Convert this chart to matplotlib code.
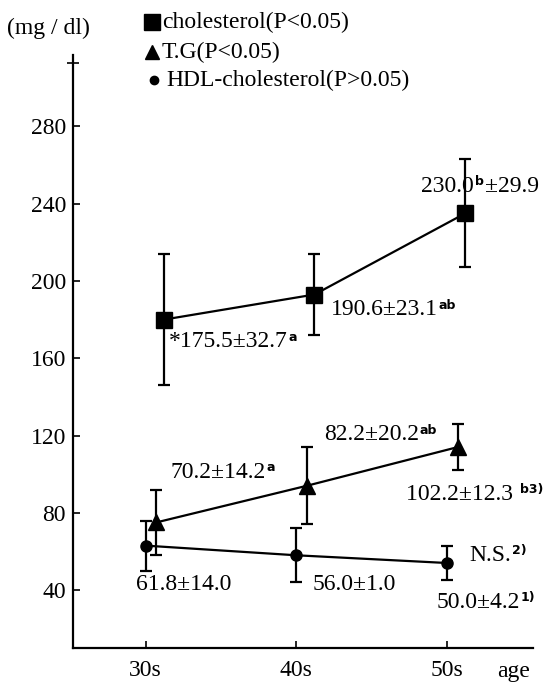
import matplotlib
matplotlib.use("Agg")
import matplotlib.pyplot as plt
from matplotlib.lines import Line2D
from matplotlib.transforms import IdentityTransform

# values as drawn in the figure (mean, half error bar) and the printed labels
ages = ["30s", "40s", "50s"]
chol_mean = [180, 193, 235]
chol_err = [34, 21, 28]
tg_mean = [75, 94, 114]
tg_err = [17, 20, 12]
hdl_mean = [63, 58, 54]
hdl_err = [13, 14, 9]

# label pieces: (text, superscript?)
chol_labels = [[("*175.5\u00b132.7", 0), ("a", 1)],
               [("190.6\u00b123.1", 0), ("ab", 1)],
               [("230.0", 0), ("b", 1), ("\u00b129.9", 0)]]
tg_labels = [[("70.2\u00b114.2", 0), ("a", 1)],
             [("82.2\u00b120.2", 0), ("ab", 1)],
             [("102.2\u00b112.3 ", 0), ("b3)", 1)]]
hdl_labels = [[("61.8\u00b114.0", 0)],
              [("56.0\u00b11.0", 0)],
              [("50.0\u00b14.2", 0), ("1)", 1)]]
ns_label = [("N.S.", 0), ("2)", 1)]
legend_labels = ["cholesterol(P<0.05)", "T.G(P<0.05)", "HDL-cholesterol(P>0.05)"]
yticks = [40, 80, 120, 160, 200, 240, 280]

plt.rcParams["font.family"] = ["Liberation Serif", "DejaVu Serif"]

FS = 17
fig = plt.figure(figsize=(5.47, 6.84), dpi=100)
ax = fig.add_axes([73 / 547, 36 / 684, 460 / 547, 593 / 684])
ax.set_xlim(0.518, 3.57)
ax.set_ylim(10, 317)
renderer = fig.canvas.get_renderer()

x = [1, 2, 3]
shifts = {"chol": 0.12, "tg": 0.07, "hdl": 0.0}
series = [
    (chol_mean, chol_err, shifts["chol"], "s", 12),
    (tg_mean, tg_err, shifts["tg"], "^", 11),
    (hdl_mean, hdl_err, shifts["hdl"], "o", 8),
]
for mean, err, shift, mk, ms in series:
    xs = [v + shift for v in x]
    ax.errorbar(xs, mean, yerr=err, color="black", lw=1.6, elinewidth=1.6,
                capsize=4, capthick=1.6, marker=mk, ms=ms, zorder=3)


def rich(parts, px, py):
    """Draw text pieces left to right from pixel (px, py); superscripts small."""
    for s, sup in parts:
        if sup:
            t = fig.text(px + 1, py + 1, s, transform=IdentityTransform(),
                         fontsize=9, family="DejaVu Sans", weight="bold",
                         va="baseline", ha="left")
        else:
            t = fig.text(px + 1, py, s, transform=IdentityTransform(),
                         fontsize=FS, va="center", ha="left")
        px = t.get_window_extent(renderer).x1


# value labels, offsets in pixels from each point
offs = {
    "chol": [(4, -22), (15, -15), (-45, 27)],
    "tg": [(13, 50), (16, 51), (-53, -47)],
    "hdl": [(-11, -39), (15, -29), (-12, -39)],
}
for key, mean, labels in [("chol", chol_mean, chol_labels),
                          ("tg", tg_mean, tg_labels),
                          ("hdl", hdl_mean, hdl_labels)]:
    for i, parts in enumerate(labels):
        bx, by = ax.transData.transform((x[i] + shifts[key], mean[i]))
        rich(parts, bx + offs[key][i][0], by + offs[key][i][1])
bx, by = ax.transData.transform((x[2], hdl_mean[2]))
rich(ns_label, bx + 21, by + 8)

for s in ["top", "right"]:
    ax.spines[s].set_visible(False)
ax.spines["left"].set_linewidth(1.6)
ax.spines["bottom"].set_linewidth(1.6)
ax.set_xticks(x)
ax.set_xticklabels(ages, fontsize=FS)
ax.set_yticks(yticks)
ax.set_yticklabels([str(v) for v in yticks], fontsize=FS)
ax.tick_params(axis="both", direction="in", length=5, width=1.2, pad=5)
ax.tick_params(axis="x", pad=9)
ax.set_yticks([313], minor=True)
ax.tick_params(axis="y", which="minor", direction="inout", length=8, width=1.2)

fig.text(7 / 547, 1 - 28 / 684, "(mg / dl)", fontsize=FS, va="center")
fig.text(497 / 547, 1 - 672 / 684, "age", fontsize=FS, va="center")

# legend drawn by hand
leg = [(152, 22, "s", 12), (152, 52, "^", 10), (154, 80, "o", 6)]
for (px, py, mk, ms), lab in zip(leg, legend_labels):
    fig.add_artist(Line2D([px / 547], [1 - py / 684], marker=mk, ms=ms,
                          color="black", transform=fig.transFigure))
    fig.text((px + 10) / 547 if mk != "o" else (px + 12) / 547, 1 - py / 684,
             lab, fontsize=FS, va="center")

fig.savefig("out.png", dpi=100)
